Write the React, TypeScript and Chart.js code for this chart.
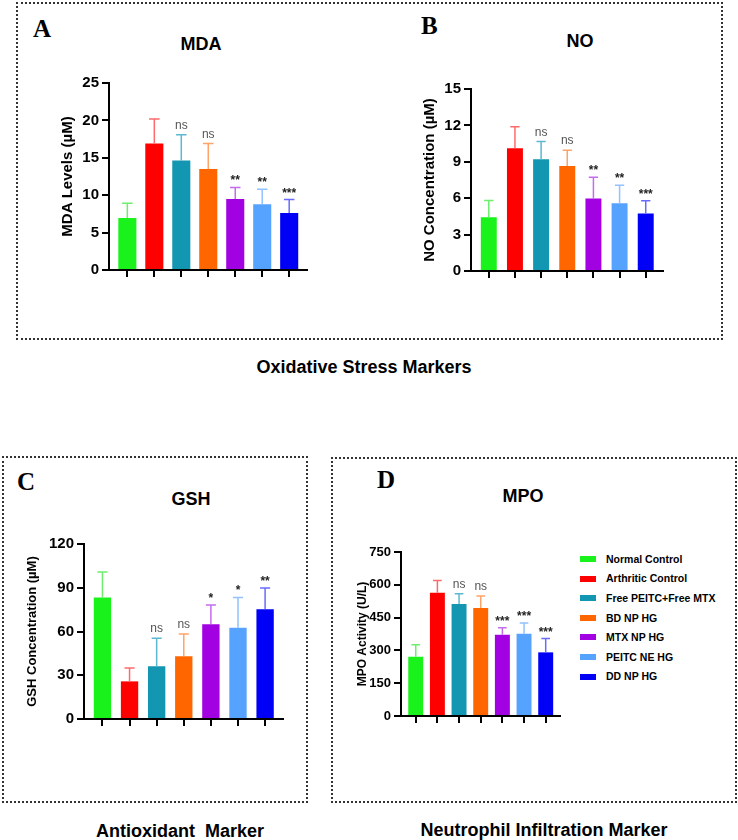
import React, { useEffect, useRef } from 'react';
import { Chart, registerables } from 'chart.js';

Chart.register(...registerables);

const FONT = '"Liberation Sans", Arial, Helvetica, sans-serif';
const SERIF = '"Liberation Serif", "Times New Roman", serif';

// ---------- data ----------
const groups = ['Normal Control', 'Arthritic Control', 'Free PEITC+Free MTX', 'BD NP HG', 'MTX NP HG', 'PEITC NE HG', 'DD NP HG'];
const barColors = ['#1AF21C', '#FF0000', '#1396B2', '#FF6600', '#A202E2', '#56A2FF', '#0000F6'];
const errColors = ['#6DEE6D', '#FF6B6B', '#5BB9CF', '#FFA368', '#C46CEE', '#92C2FF', '#6A6AFF'];

const mdaMean = [6.96, 16.9, 14.64, 13.5, 9.5, 8.8, 7.63];
const mdaSD = [1.97, 3.3, 3.44, 3.4, 1.53, 2.0, 1.79];
const mdaSig = ['', '', 'ns', 'ns', '**', '**', '***'];
const mdaTicks = [0, 5, 10, 15, 20, 25];

const noMean = [4.42, 10.12, 9.21, 8.66, 5.98, 5.58, 4.74];
const noSD = [1.4, 1.76, 1.46, 1.29, 1.74, 1.48, 1.05];
const noSig = ['', '', 'ns', 'ns', '**', '**', '***'];
const noTicks = [0, 3, 6, 9, 12, 15];

const gshMean = [83.4, 25.8, 36.1, 43.0, 64.9, 62.6, 75.2];
const gshSD = [17.4, 9.2, 19.2, 15.3, 13.3, 20.8, 14.6];
const gshSig = ['', '', 'ns', 'ns', '*', '*', '**'];
const gshTicks = [0, 30, 60, 90, 120];

const mpoMean = [271, 564, 512, 494, 372, 376, 291];
const mpoSD = [55, 56, 47, 55, 32, 49, 63];
const mpoSig = ['', '', 'ns', 'ns', '***', '***', '***'];
const mpoTicks = [0, 150, 300, 450, 600, 750];

// ---------- layout ----------
type Geo = { L: number; R: number; T: number; B: number; yW: number; tickSize: number; titleSize: number; bp: number };

const overlay = (sd: number[], sig: string[]) => ({
  id: 'errOverlay',
  afterDatasetsDraw(chart: any) {
    const ctx = chart.ctx;
    const meta = chart.getDatasetMeta(0);
    const ys = chart.scales.y;
    const vals = chart.data.datasets[0].data;
    meta.data.forEach((el: any, i: number) => {
      const topY = ys.getPixelForValue(vals[i].y + sd[i]);
      const x = el.x;
      const cap = el.width * 0.58;
      ctx.save();
      ctx.strokeStyle = errColors[i];
      ctx.lineWidth = 1.5;
      ctx.beginPath();
      ctx.moveTo(x, el.y);
      ctx.lineTo(x, topY);
      ctx.moveTo(x - cap / 2, topY);
      ctx.lineTo(x + cap / 2, topY);
      ctx.stroke();
      if (sig[i]) {
        const isNs = sig[i] === 'ns';
        ctx.fillStyle = isNs ? '#555' : '#222';
        ctx.font = isNs ? `12px ${FONT}` : `bold 12px ${FONT}`;
        ctx.textAlign = 'center';
        ctx.textBaseline = 'alphabetic';
        ctx.fillText(sig[i], x, topY - (isNs ? 6 : 3));
      }
      ctx.restore();
    });
  },
  afterDraw(chart: any) {
    const ctx = chart.ctx;
    const a = chart.chartArea;
    const y = Math.round(chart.scales.x.top);
    ctx.save();
    ctx.strokeStyle = '#000';
    ctx.lineWidth = 2;
    ctx.beginPath();
    ctx.moveTo(a.left - 7, y);
    ctx.lineTo(a.left + 1, y);
    ctx.stroke();
    ctx.restore();
  },
});

function Panel(props: { mean: number[]; sd: number[]; sig: string[]; ticks: number[]; yTitle: string; geo: Geo }) {
  const ref = useRef<HTMLCanvasElement>(null);
  const { mean, sd, sig, ticks, yTitle, geo } = props;
  const left = geo.L - geo.yW;
  const top = geo.T - 13;
  const width = geo.R + 13 - left;
  const height = geo.B + 14 + 6 - top;

  useEffect(() => {
    if (!ref.current) return;
    const mkGrid = () => ({ drawOnChartArea: false, drawTicks: true, tickLength: 7, color: '#000', lineWidth: 2, offset: false });
    const tickFont = { family: FONT, size: geo.tickSize, weight: 'bold' as const };
    const chart = new Chart(ref.current, {
      type: 'bar',
      data: {
        labels: groups,
        datasets: [
          {
            label: yTitle,
            data: mean.map((v, i) => ({ x: i, y: v })),
            backgroundColor: barColors,
            borderWidth: 0,
            barPercentage: geo.bp,
            categoryPercentage: 1,
          },
        ],
      },
      options: {
        responsive: false,
        animation: false,
        layout: { padding: { left: 0, right: 13, top: 13, bottom: 6 } },
        plugins: { legend: { display: false }, tooltip: { enabled: false }, title: { display: false } },
        scales: {
          x: {
            type: 'linear',
            min: -0.68,
            max: groups.length - 1 + 0.66,
            offset: false,
            ticks: { display: false, stepSize: 1, includeBounds: false },
            grid: mkGrid(),
            border: { color: '#000', width: 2 },
            afterFit: (s: any) => {
              s.height = 14;
            },
          },
          y: {
            type: 'linear',
            min: ticks[0],
            max: ticks[ticks.length - 1],
            ticks: {
              stepSize: ticks[1] - ticks[0],
              color: '#000',
              padding: 3,
              font: () => tickFont,
            },
            grid: mkGrid(),
            border: { color: '#000', width: 2 },
            title: {
              display: true,
              text: yTitle,
              color: '#000',
              font: { family: FONT, size: geo.titleSize, weight: 'bold' },
              padding: { top: 3, bottom: 0 },
            },
            afterFit: (s: any) => {
              s.width = geo.yW;
            },
          },
        },
      } as any,
      plugins: [overlay(sd, sig)],
    });
    return () => chart.destroy();
  }, []);

  return <canvas ref={ref} width={width} height={height} style={{ position: 'absolute', left, top, width, height }} />;
}

const abs = (extra: React.CSSProperties): React.CSSProperties => ({ position: 'absolute', lineHeight: 1, whiteSpace: 'pre', color: '#000', ...extra });

function Centered({ text, cx, top, size, family = FONT }: { text: string; cx: number; top: number; size: number; family?: string }) {
  return <div style={abs({ left: cx, top, fontSize: size, fontFamily: family, fontWeight: 'bold', transform: 'translateX(-50%)' })}>{text}</div>;
}

function Letter({ text, left, top }: { text: string; left: number; top: number }) {
  return <div style={abs({ left, top, fontSize: 25, fontFamily: SERIF, fontWeight: 'bold' })}>{text}</div>;
}

const box = (left: number, top: number, right: number, bottom: number): React.CSSProperties => ({
  position: 'absolute',
  left,
  top,
  width: right - left,
  height: bottom - top,
  boxSizing: 'border-box',
  border: '2px dotted #333',
});

export default function App() {
  return (
    <div style={{ position: 'absolute', left: 0, top: 0, width: 738, height: 840, background: '#fff', overflow: 'hidden' }}>
      <div style={box(16, 2, 723, 340)} />
      <div style={box(2, 456, 308, 803)} />
      <div style={box(331, 457, 737, 803)} />

      <Letter text="A" left={33} top={16} />
      <Letter text="B" left={421} top={12.6} />
      <Letter text="C" left={17} top={469} />
      <Letter text="D" left={377} top={467} />

      <Centered text="MDA" cx={201} top={34.8} size={18} />
      <Centered text="NO" cx={580} top={31.8} size={18} />
      <Centered text="GSH" cx={191} top={489.8} size={18} />
      <Centered text="MPO" cx={523} top={486.8} size={18} />

      <Centered text="Oxidative Stress Markers" cx={364} top={357.8} size={18} />
      <Centered text="Antioxidant  Marker" cx={180} top={821.8} size={18} />
      <Centered text="Neutrophil Infiltration Marker" cx={544} top={820.8} size={18} />

      <Panel mean={mdaMean} sd={mdaSD} sig={mdaSig} ticks={mdaTicks} yTitle="MDA Levels (µM)"
        geo={{ L: 109, R: 307, T: 83, B: 270, yW: 53, tickSize: 15, titleSize: 15, bp: 0.67 }} />
      <Panel mean={noMean} sd={noSD} sig={noSig} ticks={noTicks} yTitle="NO Concentration (µM)"
        geo={{ L: 471, R: 663, T: 89, B: 271, yW: 53, tickSize: 15, titleSize: 15, bp: 0.61 }} />
      <Panel mean={gshMean} sd={gshSD} sig={gshSig} ticks={gshTicks} yTitle="GSH Concentration (µM)"
        geo={{ L: 84, R: 283, T: 544, B: 719, yW: 62, tickSize: 15, titleSize: 13, bp: 0.64 }} />
      <Panel mean={mpoMean} sd={mpoSD} sig={mpoSig} ticks={mpoTicks} yTitle="MPO Activity (U/L)"
        geo={{ L: 401, R: 560, T: 552, B: 716, yW: 49, tickSize: 13, titleSize: 12, bp: 0.69 }} />

      <div style={{ position: 'absolute', left: 580, top: 549.2 }}>
        {groups.map((g, i) => (
          <div key={g} style={{ display: 'flex', alignItems: 'center', height: 19.6 }}>
            <div style={{ width: 16, height: 6, background: barColors[i], marginRight: 10 }} />
            <div style={{ fontFamily: FONT, fontWeight: 'bold', fontSize: 10.5, lineHeight: 1, whiteSpace: 'pre', color: '#000' }}>{g}</div>
          </div>
        ))}
      </div>
    </div>
  );
}
